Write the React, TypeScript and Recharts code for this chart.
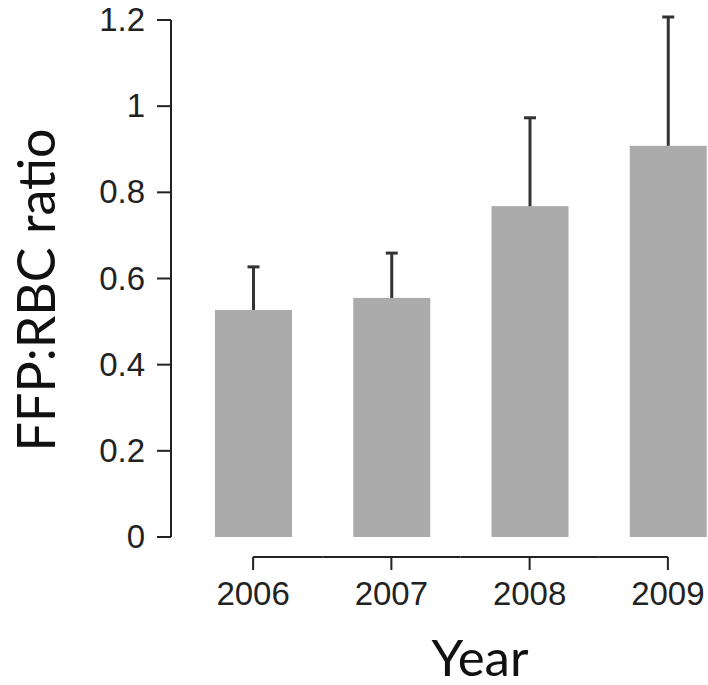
import { BarChart, Bar, XAxis, YAxis } from "recharts";

// values
const years = ["2006", "2007", "2008", "2009"];
const ratioMean = [0.527, 0.555, 0.768, 0.908];
const ratioUpper = [0.627, 0.659, 0.973, 1.207];
const yTicks = [0, 0.2, 0.4, 0.6, 0.8, 1, 1.2];

const data = years.map((year, i) => ({ year, ratio: ratioMean[i], upper: ratioUpper[i] }));

const AXIS_FONT = "Arial, 'Liberation Sans', sans-serif";
const TITLE_FONT = "Lato, 'Open Sans', sans-serif";

// bar with a one-sided (upper) error whisker
function BarWithError(props: any) {
  const { x, y, width, height, payload } = props;
  const pxPerUnit = height / payload.ratio;
  const top = y - (payload.upper - payload.ratio) * pxPerUnit;
  const cx = x + width / 2;
  return (
    <g>
      <rect x={x} y={y} width={width} height={height} fill="#ababab" />
      <line x1={cx} y1={y} x2={cx} y2={top} stroke="#333" strokeWidth={3} />
      <line x1={cx - 6} y1={top} x2={cx + 6} y2={top} stroke="#333" strokeWidth={3} />
    </g>
  );
}

// x tick: draws the short tick, its share of the axis line and the label
function YearTick(props: any) {
  const { x, y, payload, index, visibleTicksCount } = props;
  const half = payload.offset ?? 69;
  const left = index === 0 ? x : x - half;
  const right = index === visibleTicksCount - 1 ? x : x + half;
  return (
    <g>
      <line x1={left} y1={y} x2={right} y2={y} stroke="#222" strokeWidth={2} />
      <line x1={x} y1={y} x2={x} y2={y + 13} stroke="#222" strokeWidth={2} />
      <text x={x} y={y + 48} textAnchor="middle" fontSize={33} fontFamily={AXIS_FONT} fill="#222">
        {payload.value}
      </text>
    </g>
  );
}

function YTick(props: any) {
  const { x, y, payload } = props;
  return (
    <text x={x} y={y + 11} textAnchor="end" fontSize={33} fontFamily={AXIS_FONT} fill="#222">
      {payload.value}
    </text>
  );
}

export default function App() {
  return (
    <div style={{ position: "absolute", left: 0, top: 0, width: 708, height: 685, overflow: "hidden", background: "#fff" }}>
      <BarChart width={745} height={685} data={data} margin={{ top: 20, right: 8, left: 0, bottom: 0 }}>
        <XAxis
          dataKey="year"
          height={148}
          axisLine={false}
          tickLine={false}
          tickSize={0}
          tickMargin={20}
          padding={{ left: 13, right: 0 }}
          tick={<YearTick />}
          interval={0}
          label={({ viewBox }: any) => (
            <text x={480} y={viewBox.y + viewBox.height - 9} textAnchor="middle" fontSize={51} fontFamily={TITLE_FONT} fill="#111">
              Year
            </text>
          )}
        />
        <YAxis
          width={171}
          domain={[0, 1.2]}
          ticks={yTicks}
          interval={0}
          axisLine={{ stroke: "#222", strokeWidth: 2 }}
          tickLine={{ stroke: "#222", strokeWidth: 2 }}
          tickSize={14}
          tickMargin={12}
          tick={<YTick />}
          label={() => (
            <text
              x={55}
              y={290}
              transform="rotate(-90 55 290)"
              textAnchor="middle"
              fontSize={52}
              fontFamily={TITLE_FONT}
              fill="#111"
            >
              FFP:RBC ratio
            </text>
          )}
        />
        <Bar dataKey="ratio" barSize={77} shape={<BarWithError />} isAnimationActive={false} />
      </BarChart>
    </div>
  );
}
